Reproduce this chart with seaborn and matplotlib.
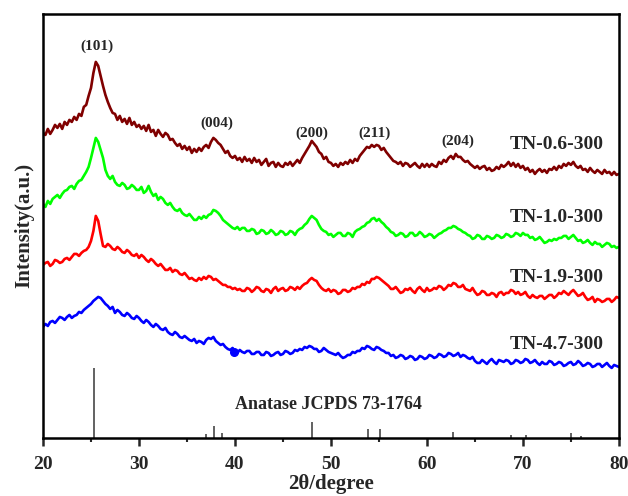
import numpy as np
import pandas as pd
import matplotlib
matplotlib.use("Agg")
import matplotlib.pyplot as plt
import seaborn as sns

# ---- data (2theta grid 20..80 step 0.25, arbitrary intensity with offsets) ----
samples = ["TN-0.6-300", "TN-1.0-300", "TN-1.9-300", "TN-4.7-300"]
colors = ["#800000", "#00ff00", "#ff0000", "#0000ff"]

tn06 = [305, 303, 309, 304, 308, 313, 310, 314, 309, 316, 313, 318, 316, 321, 318, 324, 322, 331, 333, 342,
        350, 365, 376, 372, 362, 352, 343, 336, 330, 325, 324, 318, 322, 316, 319, 314, 320, 313, 316, 311,
        313, 309, 312, 307, 313, 306, 308, 302, 308, 304, 301, 305, 303, 298, 299, 295, 292, 294, 289, 292,
        288, 291, 285, 289, 286, 290, 287, 291, 293, 290, 296, 300, 298, 295, 293, 289, 285, 287, 282, 280,
        282, 278, 280, 276, 281, 277, 279, 275, 280, 276, 278, 273, 276, 279, 272, 275, 276, 271, 275, 272,
        271, 275, 273, 276, 272, 275, 278, 275, 280, 284, 288, 292, 297, 294, 291, 286, 284, 279, 281, 276,
        275, 272, 274, 271, 275, 273, 276, 274, 278, 275, 279, 277, 282, 285, 288, 291, 290, 293, 291, 293,
        292, 288, 290, 286, 283, 280, 277, 276, 274, 276, 272, 275, 274, 271, 273, 275, 272, 270, 274, 271,
        274, 271, 274, 272, 271, 276, 274, 278, 276, 280, 282, 279, 284, 281, 281, 278, 276, 277, 274, 272,
        270, 272, 269, 271, 272, 268, 270, 267, 268, 271, 269, 273, 271, 273, 276, 272, 275, 271, 274, 270,
        272, 268, 270, 266, 268, 264, 267, 269, 266, 268, 265, 269, 268, 271, 268, 272, 270, 274, 272, 275,
        273, 276, 272, 270, 272, 268, 269, 266, 270, 267, 265, 268, 266, 264, 268, 265, 266, 263, 266, 263,
        264]
tn10 = [234, 231, 237, 234, 239, 241, 243, 240, 244, 247, 248, 251, 252, 249, 254, 257, 258, 262, 266, 271,
        280, 290, 300, 296, 288, 280, 268, 262, 259, 262, 256, 253, 252, 255, 253, 249, 250, 253, 251, 248,
        248, 251, 245, 247, 252, 246, 242, 244, 238, 241, 239, 235, 233, 235, 231, 228, 227, 229, 225, 223,
        222, 224, 221, 218, 218, 221, 219, 222, 220, 223, 224, 228, 227, 225, 222, 218, 216, 214, 212, 210,
        209, 211, 208, 210, 210, 207, 207, 209, 208, 204, 205, 208, 207, 204, 205, 208, 206, 203, 204, 207,
        206, 203, 204, 207, 206, 203, 207, 209, 210, 213, 215, 219, 222, 220, 218, 213, 209, 207, 206, 203,
        204, 201, 203, 205, 205, 202, 202, 205, 204, 201, 206, 208, 209, 211, 212, 215, 216, 219, 220, 217,
        219, 216, 214, 211, 209, 206, 205, 202, 203, 205, 204, 201, 202, 205, 205, 202, 203, 206, 204, 201,
        202, 204, 203, 200, 202, 204, 205, 207, 208, 210, 210, 212, 211, 209, 208, 206, 205, 203, 202, 199,
        200, 203, 202, 199, 199, 202, 201, 199, 200, 203, 202, 200, 201, 204, 203, 201, 202, 205, 204, 202,
        205, 203, 203, 200, 201, 198, 199, 201, 198, 195, 196, 198, 197, 199, 198, 200, 200, 202, 202, 199,
        201, 203, 200, 197, 198, 195, 196, 198, 195, 193, 196, 194, 194, 191, 193, 195, 194, 191, 192, 190,
        191]
tn19 = [173, 175, 176, 172, 174, 178, 177, 175, 176, 179, 180, 178, 181, 184, 184, 182, 185, 187, 188, 191,
        197, 207, 222, 217, 204, 192, 191, 194, 192, 189, 188, 191, 189, 186, 185, 188, 186, 183, 182, 184,
        180, 183, 181, 178, 176, 179, 177, 174, 172, 174, 171, 168, 168, 170, 166, 168, 167, 164, 163, 165,
        162, 159, 160, 158, 157, 160, 158, 161, 159, 162, 161, 158, 159, 157, 155, 153, 153, 151, 151, 149,
        150, 148, 149, 147, 147, 150, 149, 146, 148, 151, 150, 147, 146, 149, 148, 145, 149, 151, 147, 149,
        150, 147, 148, 151, 150, 148, 151, 149, 152, 154, 155, 158, 160, 158, 157, 153, 150, 148, 147, 149,
        146, 148, 147, 144, 145, 148, 148, 146, 147, 150, 149, 151, 151, 154, 153, 156, 155, 159, 159, 161,
        160, 158, 156, 154, 152, 149, 149, 151, 148, 145, 146, 149, 148, 150, 147, 145, 149, 151, 148, 146,
        150, 147, 148, 150, 149, 152, 151, 148, 150, 153, 152, 155, 154, 151, 151, 153, 149, 148, 147, 150,
        146, 143, 144, 147, 146, 143, 143, 145, 144, 141, 145, 146, 143, 145, 145, 148, 147, 144, 146, 143,
        144, 146, 142, 140, 143, 141, 140, 142, 142, 139, 141, 143, 143, 140, 142, 145, 144, 147, 145, 143,
        146, 148, 145, 142, 143, 145, 141, 138, 139, 141, 136, 139, 138, 136, 137, 139, 139, 136, 138, 141,
        140]
tn47 = [111, 114, 112, 116, 117, 115, 118, 121, 120, 118, 121, 123, 120, 122, 123, 126, 125, 128, 130, 132,
        134, 137, 139, 141, 140, 137, 134, 132, 129, 131, 125, 128, 126, 123, 122, 125, 123, 120, 119, 122,
        120, 117, 115, 118, 116, 113, 111, 114, 112, 109, 108, 110, 106, 104, 103, 106, 104, 101, 100, 102,
        100, 98, 97, 99, 95, 97, 96, 94, 98, 100, 99, 101, 97, 95, 93, 94, 91, 89, 88, 90,
        87, 85, 88, 86, 85, 87, 87, 84, 84, 86, 86, 83, 83, 86, 85, 82, 83, 85, 86, 83,
        84, 87, 86, 84, 85, 88, 87, 89, 88, 91, 90, 92, 91, 89, 89, 86, 87, 90, 88, 86,
        85, 84, 83, 85, 82, 80, 81, 83, 83, 86, 85, 87, 87, 90, 89, 92, 91, 89, 88, 91,
        90, 88, 87, 85, 85, 82, 83, 80, 81, 83, 82, 79, 80, 82, 81, 78, 79, 82, 81, 79,
        80, 83, 82, 80, 81, 84, 83, 81, 82, 85, 84, 82, 83, 85, 81, 83, 82, 80, 79, 81,
        77, 75, 75, 78, 76, 74, 77, 79, 76, 74, 78, 77, 76, 78, 77, 74, 75, 78, 77, 75,
        76, 79, 78, 75, 76, 78, 75, 73, 76, 74, 74, 77, 76, 73, 74, 76, 75, 72, 73, 75,
        76, 73, 74, 77, 75, 72, 73, 75, 74, 71, 72, 74, 74, 71, 73, 75, 72, 70, 73, 72,
        71]
series = [tn06, tn10, tn19, tn47]
for s in series:
    assert len(s) == 241, len(s)

# stray marker on the TN-4.7-300 trace
dot_theta = [39.9]
dot_int = [86]

# anatase reference (JCPDS 73-1764) stick pattern
ref_pos = [25.3, 36.95, 37.8, 38.6, 48.05, 53.9, 55.1, 62.7, 68.8, 70.3, 75.0, 76.0]
ref_int = [70, 4, 12, 5, 16, 9, 9, 6, 3, 3, 5, 2]

hkl_labels = ["(101)", "(004)", "(200)", "(211)", "(204)"]
hkl_x = [25.6, 38.1, 48.0, 54.5, 63.2]
hkl_y = [392, 315, 305, 305, 297]
name_y = [293, 220, 160, 93]

# ---- build long-form table ----
frames = []
for name, vals in zip(samples, series):
    theta = np.linspace(20, 80, len(vals))
    frames.append(pd.DataFrame({"theta": theta, "intensity": vals, "sample": name}))
df = pd.concat(frames, ignore_index=True)

sns.set_style("ticks")
plt.rcParams["font.family"] = ["Liberation Serif", "DejaVu Serif"]
plt.rcParams["font.weight"] = "bold"

fig = plt.figure(figsize=(6.28, 4.96), dpi=100)
ax = fig.add_axes([0.0685, 0.117, 0.917, 0.855])

sns.lineplot(data=df, x="theta", y="intensity", hue="sample",
             palette=dict(zip(samples, colors)), linewidth=1.9,
             legend=False, ax=ax, estimator=None, sort=False)
ax.plot(dot_theta, dot_int, "o", color="#0000ff", markersize=5.5)

ax.vlines(ref_pos, 0, ref_int, color="#555555", linewidth=1.3)

for lab, x, y in zip(hkl_labels, hkl_x, hkl_y):
    ax.text(x, y, lab, ha="center", va="center", fontsize=11, fontweight="bold")
for name, y in zip(samples, name_y):
    ax.text(68.6, y, name, ha="left", va="center", fontsize=14, fontweight="bold")
ax.text(40.0, 33, "Anatase JCPDS 73-1764", ha="left", va="center",
        fontsize=13, fontweight="bold")

ax.set_xlim(20, 80)
ax.set_ylim(0, 424)
ax.set_xticks([20, 30, 40, 50, 60, 70, 80])
ax.set_xticks([25, 35, 45, 55, 65, 75], minor=True)
ax.set_yticks([])
ax.tick_params(axis="x", which="major", direction="out", length=6, width=1.8,
               labelsize=14, pad=7)
ax.tick_params(axis="x", which="minor", direction="out", length=3, width=1.5)
for lbl in ax.get_xticklabels():
    lbl.set_fontweight("bold")
for sp in ax.spines.values():
    sp.set_linewidth(1.8)
    sp.set_color("black")

ax.set_xlabel("2θ/degree", fontsize=15, fontweight="bold", labelpad=1)
ax.set_ylabel("Intensity(a.u.)", fontsize=15, fontweight="bold", labelpad=6)

fig.savefig("out.png", dpi=100)
